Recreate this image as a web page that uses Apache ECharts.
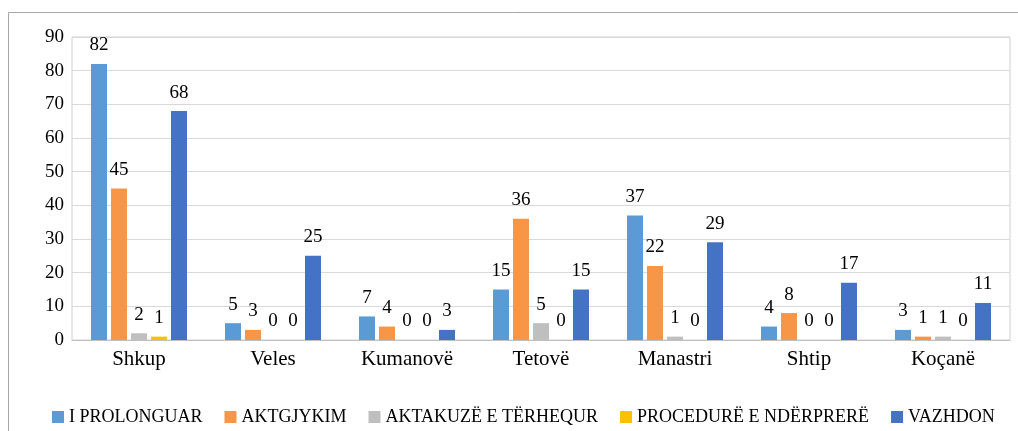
<!DOCTYPE html>
<html>
<head>
<meta charset="utf-8">
<script src="https://cdn.jsdelivr.net/npm/echarts@6/dist/echarts.min.js"></script>
<style>
  html, body { margin: 0; padding: 0; background: #fff; }
  #chart { width: 1018px; height: 431px; }
</style>
</head>
<body>
<div id="chart"></div>
<script>
// qytetet
var cities = ["Shkup", "Veles", "Kumanovë", "Tetovë", "Manastri", "Shtip", "Koçanë"];
// seritë
var seriesNames = ["I PROLONGUAR", "AKTGJYKIM", "AKTAKUZË E TËRHEQUR", "PROCEDURË E NDËRPRERË", "VAZHDON"];
var prolonguar = [82, 5, 7, 15, 37, 4, 3];
var aktgjykim = [45, 3, 4, 36, 22, 8, 1];
var terhequr = [2, 0, 0, 5, 1, 0, 1];
var nderprere = [1, 0, 0, 0, 0, 0, 0];
var vazhdon = [68, 25, 3, 15, 29, 17, 11];
var yTicks = [0, 10, 20, 30, 40, 50, 60, 70, 80, 90];

var colors = ["#5b9bd5", "#f79646", "#bfbfbf", "#ffc000", "#4472c4"];
var font = "'Liberation Serif', 'DejaVu Serif', serif";

var myChart = echarts.init(document.getElementById("chart"));

function makeSeries(name, data) {
  return {
    name: name,
    type: "bar",
    data: data,
    barWidth: 16,
    barGap: "25%",
    label: {
      show: true,
      position: "top",
      distance: 9,
      color: "#000",
      fontFamily: font,
      fontSize: 19,
    },
  };
}

myChart.setOption({
  animation: false,
  color: colors,
  //外框
  graphic: [
    {
      type: "rect",
      shape: { x: 8.5, y: 12.5, width: 1030, height: 440 },
      style: { fill: "none", stroke: "#a6a6a6", lineWidth: 1 },
      silent: true,
    },
  ],
  grid: {
    left: 72,
    right: 8,
    top: 37,
    bottom: 91,
    show: true,
    borderColor: "#d0d0d0",
    borderWidth: 1,
  },
  legend: {
    left: 47,
    top: 403,
    itemWidth: 12,
    itemHeight: 12,
    itemGap: 22,
    icon: "rect",
    textStyle: {
      color: "#000",
      fontFamily: font,
      fontSize: 18,
    },
    data: seriesNames,
  },
  xAxis: {
    type: "category",
    data: cities,
    axisLine: { lineStyle: { color: "#c0c0c0" } },
    axisTick: { show: false },
    axisLabel: {
      color: "#000",
      fontFamily: font,
      fontSize: 21,
      margin: 9,
    },
  },
  yAxis: {
    type: "value",
    min: yTicks[0],
    max: yTicks[yTicks.length - 1],
    interval: 10,
    axisLine: { show: false },
    axisTick: { show: false },
    splitLine: { lineStyle: { color: "#d9d9d9" } },
    axisLabel: {
      color: "#000",
      fontFamily: font,
      fontSize: 19,
      margin: 8,
    },
  },
  series: [
    makeSeries(seriesNames[0], prolonguar),
    makeSeries(seriesNames[1], aktgjykim),
    makeSeries(seriesNames[2], terhequr),
    makeSeries(seriesNames[3], nderprere),
    makeSeries(seriesNames[4], vazhdon),
  ],
});
</script>
</body>
</html>
